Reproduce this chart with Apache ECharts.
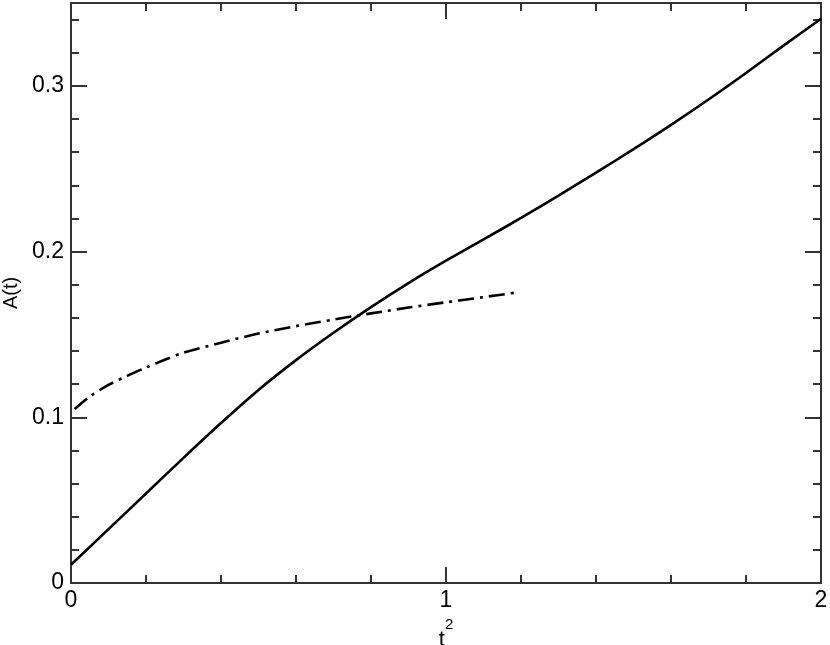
<!DOCTYPE html>
<html>
<head>
<meta charset="utf-8">
<script src="https://cdn.jsdelivr.net/npm/echarts@6/dist/echarts.min.js"></script>
<style>
  html, body { margin: 0; padding: 0; background: #fff; }
  #chart { width: 830px; height: 645px; }
</style>
</head>
<body>
<div id="chart"></div>
<script>
// solid curve
const solidT2 = [0, 0.1, 0.2, 0.3, 0.4, 0.5, 0.6, 0.7, 0.8, 0.9, 1.0, 1.1, 1.2, 1.3, 1.4, 1.5, 1.6, 1.7, 1.8, 1.9, 2.0]
const solidA = [0.011, 0.0325, 0.054, 0.0755, 0.0965, 0.1165, 0.1345, 0.151, 0.1665, 0.181, 0.1945, 0.2073, 0.2203, 0.2338, 0.2476, 0.2618, 0.2765, 0.2918, 0.3078, 0.3243, 0.3405]

// dash-dot curve
const dashT2 = [0.01, 0.05, 0.1, 0.15, 0.2, 0.25, 0.3, 0.4, 0.5, 0.6, 0.7, 0.8, 0.9, 1.0, 1.1, 1.185]
const dashA = [0.105, 0.1125, 0.1195, 0.125, 0.130, 0.1347, 0.139, 0.145, 0.1505, 0.155, 0.159, 0.1627, 0.1662, 0.1694, 0.1725, 0.1752]

const xMin = 0, xMax = 2, xStep = 1
const yMin = 0, yMax = 0.35, yStep = 0.1, yMinorStep = 0.02

const font = 'Liberation Sans, Arial, Helvetica, sans-serif'
const axisColor = '#333'

const chart = echarts.init(document.getElementById('chart'), null, { renderer: 'canvas' })

const xBase = (pos, labels) => ({
  type: 'value', position: pos, offset: 0, min: xMin, max: xMax, interval: xStep,
  axisLine: { show: true, onZero: false, lineStyle: { color: axisColor, width: 2 } },
  axisTick: { show: true, inside: true, length: 16, lineStyle: { color: axisColor, width: 2 } },
  minorTick: { show: true, splitNumber: 5, length: 8, lineStyle: { color: axisColor, width: 2 } },
  splitLine: { show: false },
  axisLabel: { show: labels, fontSize: 23, color: '#000', fontFamily: font, margin: 6 }
})

const yMajor = (pos, labels) => ({
  type: 'value', position: pos, offset: 0, min: yMin, max: yMax, interval: yStep,
  axisLine: { show: true, onZero: false, lineStyle: { color: axisColor, width: 2 } },
  axisTick: { show: true, inside: true, length: 16, lineStyle: { color: axisColor, width: 2 } },
  splitLine: { show: false },
  axisLabel: { show: labels, showMaxLabel: false, fontSize: 23, color: '#000', fontFamily: font, margin: 7 }
})

// second axis on each side only for the short ticks every 0.02
const yMinor = (pos) => ({
  type: 'value', position: pos, offset: 0, min: yMin, max: yMax, interval: yMinorStep,
  axisLine: { show: true, onZero: false, lineStyle: { color: axisColor, width: 2 } },
  axisTick: { show: true, inside: true, length: 8, lineStyle: { color: axisColor, width: 2 } },
  splitLine: { show: false },
  axisLabel: { show: false }
})

const xBottom = xBase('bottom', true)
xBottom.name = '{t|t}{s|2}'
xBottom.nameLocation = 'middle'
xBottom.nameGap = 29
xBottom.nameTextStyle = {
  rich: {
    t: { fontSize: 22, fontFamily: font, color: '#000', lineHeight: 34, verticalAlign: 'bottom' },
    s: { fontSize: 15, fontFamily: font, color: '#000', lineHeight: 16, verticalAlign: 'top' }
  }
}

const yLeft = yMajor('left', true)
yLeft.name = 'A(t)'
yLeft.nameLocation = 'middle'
yLeft.nameGap = 50
yLeft.nameTextStyle = { fontSize: 20, fontFamily: font, color: '#000' }

const option = {
  backgroundColor: '#fff',
  animation: false,
  grid: { left: 71, right: 9, top: 3, bottom: 62, containLabel: false, outerBoundsMode: 'none' },
  xAxis: [xBottom, xBase('top', false)],
  yAxis: [yLeft, yMajor('right', false), yMinor('left'), yMinor('right')],
  series: [
    {
      type: 'line', xAxisIndex: 0, yAxisIndex: 0, smooth: 0.3, showSymbol: false,
      lineStyle: { color: '#000', width: 2.6 },
      data: solidT2.map((t, i) => [t, solidA[i]])
    },
    {
      type: 'line', xAxisIndex: 0, yAxisIndex: 0, smooth: 0.3, showSymbol: false,
      lineStyle: { color: '#000', width: 2.6, type: [16, 6, 3, 6] },
      data: dashT2.map((t, i) => [t, dashA[i]])
    }
  ]
}

chart.setOption(option)
</script>
</body>
</html>
